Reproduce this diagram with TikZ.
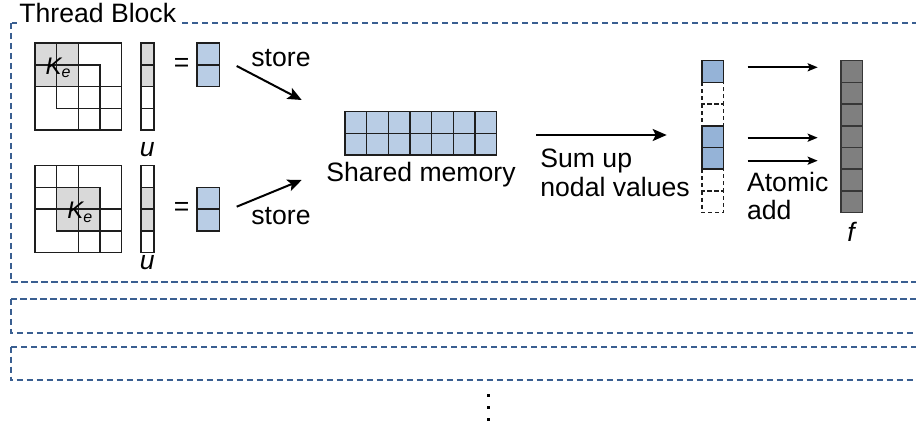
\documentclass[tikz,border=0pt]{standalone}
\usepackage{fontspec}
\setmainfont{Liberation Sans}
\usetikzlibrary{arrows.meta}

\definecolor{blockblue}{RGB}{58,95,145}
\definecolor{cellgrid}{RGB}{30,30,30}
\definecolor{keGray}{RGB}{217,217,217}
\definecolor{cellblue}{RGB}{185,205,229}
\definecolor{sumblue}{RGB}{149,179,215}
\definecolor{fGray}{RGB}{127,127,127}
\definecolor{fEdge}{RGB}{55,55,55}

% cell size of every matrix / vector
\def\cs{21.67}

\begin{document}
\begin{tikzpicture}[x=0.5pt,y=-0.5pt,
    blockframe/.style={draw=blockblue,line width=1pt,dash pattern=on 3.25pt off 1.75pt},
    cellline/.style={draw=cellgrid,line width=0.8pt},
    lbl/.style={font=\fontsize{13.3}{15}\selectfont,inner sep=0pt},
    ital/.style={lbl,font=\fontsize{13.3}{15}\selectfont\itshape},
    bigarrow/.style={line width=1pt,-{Stealth[length=7pt,width=6pt,inset=1.5pt]}},
    addarrow/.style={line width=1pt,-{Stealth[length=5pt,width=4pt,inset=1pt]}}]
  \useasboundingbox (0,0) rectangle (916,426);
  \clip (0,0) rectangle (916,426);

  %%%%% thread blocks %%%%%
  \draw[blockframe] (10.5,23) rectangle (940,282.3);
  \node[lbl,fill=white,inner xsep=1pt,inner ysep=1.5pt,anchor=base west] (tb) at (17,23) {Thread Block};
  \draw[blockframe] (10.5,299) rectangle (940,332.7);
  \draw[blockframe] (10.5,346.7) rectangle (940,380.5);
  \foreach \d in {395.7,407.7,419.3}
    \fill (486.8,\d-1.5) rectangle ++(3,3);

  %%%%% element matrices, u and local result %%%%%
  \foreach \row/\k/\yy/\ub in {top/0/43.3/113, bot/1/165.7/104}{
    \begin{scope}[shift={(35,\yy)}]
      \fill[keGray] (\k*\cs,\k*\cs) rectangle ++(2*\cs,2*\cs);
      \draw[cellline] (0,0) rectangle (4*\cs,4*\cs);
      \foreach \e in {0,1,2}{
        \draw[cellline] (\e*\cs,\e*\cs) rectangle ++(2*\cs,2*\cs);
        \draw[cellline] (\e*\cs+\cs,\e*\cs) -- ++(0,2*\cs);
        \draw[cellline] (\e*\cs,\e*\cs+\cs) -- ++(2*\cs,0);
      }
      \node[lbl,font=\fontsize{12}{13}\selectfont\itshape] (ke-\row)
        at (\k*\cs+\cs+2,\k*\cs+\cs+3) {K\textsubscript{e}};
      % u
      \fill[keGray] (105.7,\k*\cs) rectangle ++(13.3,2*\cs);
      \foreach \r in {0,...,3}
        \draw[cellline] (105.7,\r*\cs) rectangle ++(13.3,\cs);
      \node[ital,anchor=base] (u-\row) at (112.3,\ub) {u};
      \node[lbl] (eq-\row) at (146.7,\k*\cs+\cs) {=};
      \foreach \r in {0,1}
        \draw[cellline,fill=cellblue] (161.7,\k*\cs+\r*\cs) rectangle ++(22.6,\cs);
    \end{scope}
  }

  % store arrows
  \coordinate (st1a) at (236.7,66);
  \coordinate (st1b) at (301.7,100);
  \coordinate (st2a) at (236.7,206.7);
  \coordinate (st2b) at (301.7,180);
  \draw[bigarrow] (st1a) -- (st1b);
  \draw[bigarrow] (st2a) -- (st2b);
  \node[lbl,anchor=base] (store1) at (281,67) {store};
  \node[lbl,anchor=base] (store2) at (281,225) {store};

  %%%%% shared memory %%%%%
  \foreach \i in {0,...,6}
    \foreach \j in {0,1}
      \draw[cellline,fill=cellblue] (345+\i*\cs,111.7+\j*\cs) rectangle ++(\cs,\cs);
  \node[lbl,anchor=base] (shm) at (421,182) {Shared memory};

  \coordinate (suma) at (536,135);
  \coordinate (sumb) at (666.7,135);
  \draw[bigarrow] (suma) -- (sumb);
  \node[lbl,align=left,anchor=base west,font=\fontsize{13.3}{14.35}\selectfont] (sum) at (540,196.7) {Sum up\\nodal values};

  %%%%% summed nodal values %%%%%
  \foreach \r in {1,2,5,6}
    \draw[cellline,dash pattern=on 2pt off 1.5pt] (701.7,60.7+\r*\cs) rectangle ++(21.6,\cs);
  \foreach \r in {0,3,4}
    \draw[cellline,fill=sumblue] (701.7,60.7+\r*\cs) rectangle ++(21.6,\cs);

  %%%%% global vector f %%%%%
  \foreach \r in {0,...,6}
    \draw[line width=0.8pt,draw=fEdge,fill=fGray] (840.7,60.7+\r*\cs) rectangle ++(21.6,\cs);
  \node[ital,anchor=base] (f) at (851,241.7) {f};

  \coordinate (ad1a) at (747.7,67.3);
  \coordinate (ad1b) at (817.7,67.3);
  \coordinate (ad2a) at (747.7,137.7);
  \coordinate (ad2b) at (817.7,137.7);
  \coordinate (ad3a) at (747.7,160.7);
  \coordinate (ad3b) at (817.7,160.7);
  \draw[addarrow] (ad1a) -- (ad1b);
  \draw[addarrow] (ad2a) -- (ad2b);
  \draw[addarrow] (ad3a) -- (ad3b);
  \node[lbl,align=left,anchor=base west,font=\fontsize{13.3}{14.2}\selectfont] (atom) at (746.7,220) {Atomic\\add};
\end{tikzpicture}
\end{document}
